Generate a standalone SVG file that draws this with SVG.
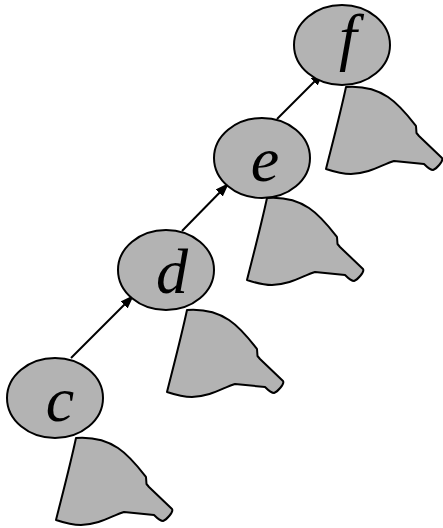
<svg xmlns="http://www.w3.org/2000/svg" width="443" height="528" viewBox="0 0 443 528">
  <style>
    .node ellipse { fill: #b3b3b3; stroke: #000; stroke-width: 2; }
    .node text { font-family: "Liberation Serif", "Times New Roman", serif; font-style: italic; font-size: 64px; text-anchor: middle; fill: #000; }
    .sub { fill: #b3b3b3; stroke: #000; stroke-width: 2; stroke-linejoin: round; }
    .edge { stroke: #000; stroke-width: 2; fill: none; marker-end: url(#arrow); }
  </style>
  <defs>
    <marker id="arrow" viewBox="0 0 14 10" refX="14" refY="5" markerWidth="14" markerHeight="10" markerUnits="userSpaceOnUse" orient="auto">
      <path d="M0,0 L14,5 L0,10 Z" fill="#000"/>
    </marker>
    <path id="subtree" class="sub" d="M0,0 C14,-1 30,2 42,10 C54,18 63,30 70,39 L70.5,46 L73,49 L96,71 C98,74 90,82 87,83 C84,83 81,80 78,77 L48,74 C35,78 25,86 5,87 C-5,87 -14,84 -20,82 C-14,58 -6,28 0,0 Z"/>
  </defs>

  <g id="connectors">
    <line class="edge" x1="71" y1="358" x2="134" y2="295"/>
    <line class="edge" x1="182" y1="231" x2="229" y2="183"/>
    <line class="edge" x1="277" y1="119" x2="324" y2="72"/>
  </g>

  <g id="subtree-c"><use href="#subtree" x="76" y="438"/></g>
  <g id="subtree-d"><use href="#subtree" x="187" y="310"/></g>
  <g id="subtree-e"><use href="#subtree" x="267" y="198"/></g>
  <g id="subtree-f"><use href="#subtree" x="346" y="87"/></g>

  <g id="node-c" class="node">
    <ellipse cx="55" cy="398" rx="48" ry="40"/>
    <text x="60" y="421">c</text>
  </g>
  <g id="node-d" class="node">
    <ellipse cx="166" cy="270" rx="48" ry="40"/>
    <text x="172" y="293">d</text>
  </g>
  <g id="node-e" class="node">
    <ellipse cx="262" cy="158" rx="48" ry="40"/>
    <text x="265" y="181">e</text>
  </g>
  <g id="node-f" class="node">
    <ellipse cx="342" cy="45" rx="48" ry="40"/>
    <text x="348" y="58">f</text>
  </g>
</svg>
